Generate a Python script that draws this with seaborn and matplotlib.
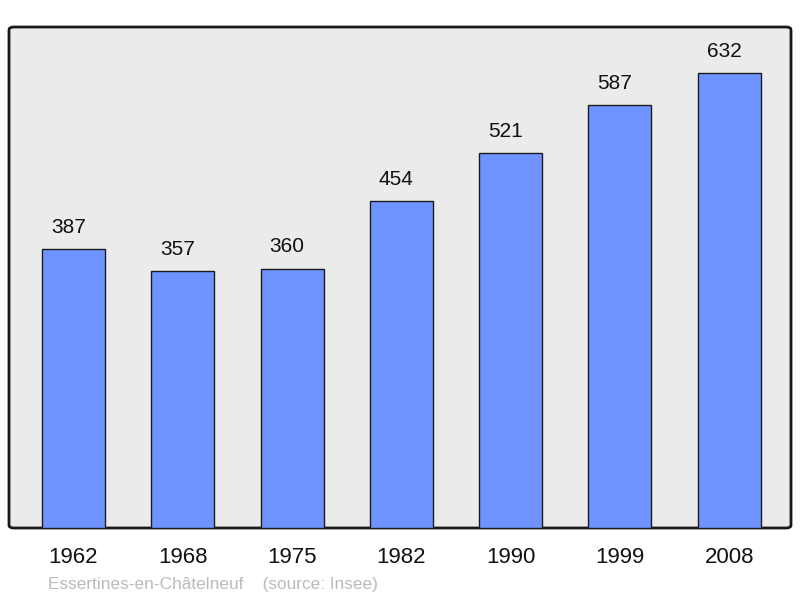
import matplotlib
matplotlib.use("Agg")
import matplotlib.pyplot as plt
import pandas as pd
import seaborn as sns
from matplotlib.patches import FancyBboxPatch

years = ["1962", "1968", "1975", "1982", "1990", "1999", "2008"]
population = [387, 357, 360, 454, 521, 587, 632]
commune = "Essertines-en-Châtelneuf"
source = "(source: Insee)"

df = pd.DataFrame({"year": years, "population": population})

sns.set_theme(style="white")
plt.rcParams["font.family"] = ["Liberation Sans", "DejaVu Sans"]

fig = plt.figure(figsize=(8, 5.98), dpi=100)
ax = fig.add_axes([9 / 800, 1 - 528 / 598, 782 / 800, 501 / 598])
ax.set_facecolor("none")

# rounded background frame
frame = FancyBboxPatch((0, 0), 1, 1, boxstyle="round,pad=0,rounding_size=0.006",
                       transform=ax.transAxes, facecolor="#ebebeb",
                       edgecolor="#1a1a1a", linewidth=2, zorder=0, clip_on=False)
ax.add_patch(frame)

sns.barplot(data=df, x="year", y="population", color="#7094ff", width=0.576,
            saturation=1, edgecolor="#1a1a1a", linewidth=1, ax=ax, zorder=2)

for i, v in enumerate(population):
    ax.annotate(str(v), (i, v), xytext=(-3.6, 15.8), textcoords="offset points",
                ha="center", va="center", fontsize=15, color="#111111")

ax.set_xlim(-0.59, 6.565)
ax.set_ylim(0, 696)
ax.set_yticks([])
ax.set_xlabel("")
ax.set_ylabel("")
for s in ax.spines.values():
    s.set_visible(False)
ax.tick_params(axis="x", length=0, labelsize=16, pad=14, colors="#111111")

fig.text(48 / 800, 1 - 584 / 598, commune + "    " + source, fontsize=12.4,
         color="#bbbbbb", ha="left", va="center")

fig.savefig("out.png", dpi=100, facecolor="white")
